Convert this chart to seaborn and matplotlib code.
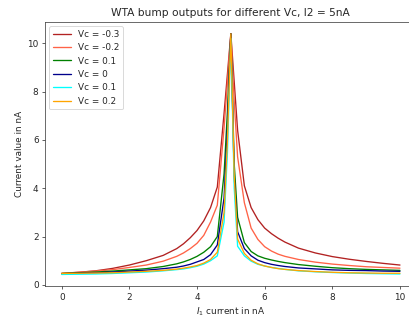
import matplotlib
matplotlib.use("Agg")
import matplotlib.pyplot as plt
import seaborn as sns

# I1 sweep (nA)
x = [0, 0.5, 1, 1.5, 2, 2.5, 3, 3.4, 3.6, 3.8, 4.0, 4.2, 4.4, 4.6, 4.8, 4.9,
     5.0, 5.1, 5.2, 5.4, 5.6, 5.8, 6.0, 6.2, 6.4, 6.6, 7.0, 7.5, 8, 8.5, 9, 9.5, 10]

# output current for each Vc (nA)
vc_m03 = [0.47, 0.52, 0.58, 0.68, 0.82, 1.0, 1.22, 1.5, 1.7, 1.95, 2.25, 2.65, 3.2, 4.05, 7.1, 8.75,
          10.4, 8.4, 6.4, 4.1, 3.2, 2.7, 2.35, 2.12, 1.93, 1.77, 1.52, 1.32, 1.17, 1.06, 0.97, 0.89, 0.82]
vc_m02 = [0.48, 0.52, 0.57, 0.63, 0.72, 0.82, 0.98, 1.18, 1.32, 1.5, 1.72, 2.05, 2.6, 3.3, 6.5, 8.4,
          10.4, 7.6, 5.3, 3.4, 2.35, 1.88, 1.58, 1.4, 1.27, 1.18, 1.05, 0.94, 0.86, 0.8, 0.75, 0.72, 0.69]
vc_p01 = [0.47, 0.5, 0.53, 0.57, 0.62, 0.67, 0.76, 0.87, 0.95, 1.05, 1.18, 1.35, 1.58, 2.0, 4.6, 7.2,
          10.4, 5.0, 2.8, 1.75, 1.38, 1.2, 1.1, 1.03, 0.97, 0.92, 0.84, 0.77, 0.71, 0.67, 0.64, 0.62, 0.6]
vc_0 = [0.46, 0.48, 0.5, 0.53, 0.57, 0.61, 0.67, 0.73, 0.78, 0.85, 0.95, 1.05, 1.25, 1.65, 3.6, 6.5,
        10.4, 4.5, 2.2, 1.5, 1.2, 1.02, 0.92, 0.85, 0.8, 0.76, 0.7, 0.66, 0.62, 0.6, 0.59, 0.57, 0.56]
vc_p01b = [0.43, 0.44, 0.45, 0.47, 0.5, 0.53, 0.58, 0.63, 0.66, 0.71, 0.77, 0.86, 1.0, 1.2, 2.6, 5.5,
           10.2, 4.0, 1.6, 1.2, 0.98, 0.85, 0.78, 0.72, 0.68, 0.64, 0.58, 0.54, 0.51, 0.49, 0.47, 0.46, 0.45]
vc_p02 = [0.47, 0.48, 0.49, 0.5, 0.53, 0.56, 0.6, 0.65, 0.69, 0.74, 0.8, 0.9, 1.05, 1.35, 3.0, 6.0,
          10.4, 4.5, 1.9, 1.3, 1.02, 0.87, 0.78, 0.72, 0.67, 0.64, 0.59, 0.55, 0.52, 0.5, 0.49, 0.48, 0.48]

labels = ["Vc = -0.3", "Vc = -0.2", "Vc = 0.1", "Vc = 0", "Vc = 0.1", "Vc = 0.2"]
colors = ["firebrick", "tomato", "green", "darkblue", "cyan", "orange"]
series = [vc_m03, vc_m02, vc_p01, vc_0, vc_p01b, vc_p02]

sns.set_style("ticks")
plt.rcParams["font.family"] = ["DejaVu Sans"]

fig = plt.figure(figsize=(409 / 64, 320 / 64), dpi=64)
ax = fig.add_axes([0.1095, 0.1047, 0.9098, 0.8275])

for vals, lab, c in zip(series, labels, colors):
    sns.lineplot(x=x, y=vals, color=c, label=lab, ax=ax, linewidth=1.5)

for side in ["left", "right", "top", "bottom"]:
    ax.spines[side].set_visible(True)
    ax.spines[side].set_color("#333333")

ax.set_xticks([0, 2, 4, 6, 8, 10])
ax.set_yticks([0, 2, 4, 6, 8, 10])
ax.set_xlabel("$I_1$ current in nA")
ax.set_ylabel("Current value in nA")
ax.set_title("WTA bump outputs for different Vc, I2 = 5nA")
ax.legend(loc="upper left", frameon=True)

fig.savefig("out.png", dpi=64)
